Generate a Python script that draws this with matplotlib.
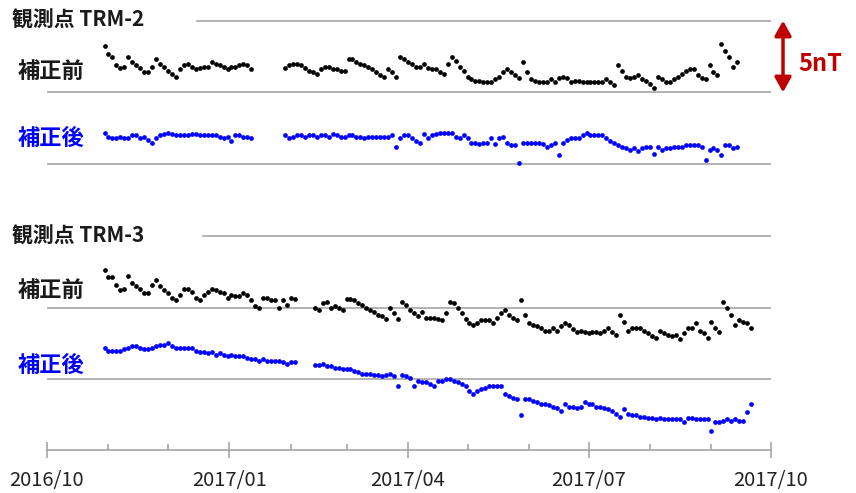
import numpy as np
import pandas as pd
import matplotlib.pyplot as plt
import matplotlib.dates as mdates

plt.rcParams['font.family'] = ['Noto Sans CJK JP', 'DejaVu Sans']

# values, one every 2 days, in nT (grid every 5 nT)
start_a = '2016-10-30'
trm2_start_b = '2017-01-29'
trm3_start_b = '2017-02-13'

trm2_before_a = [23.2, 22.7, 22.5, 21.9, 21.7, 21.8, 22.5, 22.1, 21.9, 21.7,
                 21.4, 21.4, 21.8, 22.3, 22.0, 21.8, 21.5, 21.3, 21.1, 21.6,
                 21.9, 22.0, 21.8, 21.6, 21.7, 21.8, 21.8, 22.1, 22.0, 21.9,
                 21.8, 21.6, 21.8, 21.8, 21.9, 22.0, 21.9, 21.6]
trm2_before_b = [21.7, 21.9, 22.0, 22.0, 21.9, 21.7, 21.5, 21.4, 21.3, 21.6,
                 21.8, 21.8, 21.6, 21.6, 21.5, 21.5, 22.3, 22.3, 22.1, 22.0,
                 21.9, 21.8, 21.6, 21.4, 21.2, 21.1, 21.6, 21.4, 21.1, 22.5,
                 22.3, 22.1, 22.0, 21.8, 21.8, 22.0, 21.7, 21.6, 21.6, 21.4,
                 21.3, 22.0, 22.5, 22.2, 21.8, 21.5, 21.1, 20.9, 20.8, 20.8,
                 20.7, 20.7, 20.7, 20.9, 21.1, 21.4, 21.6, 21.4, 21.2, 21.0,
                 22.1, 21.4, 20.9, 20.8, 20.7, 20.7, 20.7, 20.9, 20.7, 21.0,
                 21.1, 21.0, 20.7, 20.8, 20.8, 20.7, 20.7, 20.7, 20.7, 20.7,
                 20.7, 20.9, 20.7, 20.5, 21.9, 21.5, 21.1, 21.0, 21.1, 21.2,
                 20.9, 20.8, 20.6, 20.3, 21.1, 20.9, 20.7, 20.7, 20.9, 21.1,
                 21.3, 21.5, 21.6, 21.6, 21.2, 21.0, 20.9, 21.9, 21.4, 21.2,
                 23.4, 22.9, 22.5, 21.8, 22.1]

trm2_after_a = [17.2, 16.9, 16.8, 16.8, 16.9, 16.8, 16.8, 17.0, 17.0, 16.8,
                16.9, 16.7, 16.5, 16.8, 17.0, 17.1, 17.2, 17.1, 17.0, 17.0,
                17.0, 17.0, 17.1, 17.1, 17.0, 17.0, 17.0, 17.0, 17.0, 16.9,
                16.8, 16.9, 16.6, 17.0, 17.0, 16.9, 16.9, 16.8]
trm2_after_b = [17.0, 16.8, 16.9, 17.0, 17.0, 16.9, 17.0, 17.0, 16.9, 17.0,
                17.0, 16.9, 17.1, 17.0, 16.9, 16.9, 17.0, 17.0, 16.9, 16.9,
                16.8, 16.9, 16.9, 16.9, 16.9, 16.9, 16.9, 17.0, 16.2, 16.8,
                17.0, 17.0, 16.8, 16.6, 16.5, 17.1, 16.8, 17.0, 17.1, 17.2,
                17.2, 17.2, 17.2, 16.9, 16.8, 17.0, 16.8, 16.5, 16.5, 16.4,
                16.5, 16.5, 16.8, 16.4, 16.8, 16.9, 16.5, 16.3, 16.3, 15.1,
                16.5, 16.5, 16.5, 16.5, 16.5, 16.4, 16.2, 16.3, 16.5, 15.6,
                16.5, 16.7, 16.8, 16.8, 16.8, 17.0, 17.2, 17.0, 17.0, 17.0,
                17.0, 16.8, 16.6, 16.5, 16.3, 16.2, 16.1, 16.0, 16.1, 15.9,
                16.1, 16.2, 16.2, 15.7, 16.2, 16.0, 16.1, 16.1, 16.2, 16.2,
                16.2, 16.3, 16.3, 16.3, 16.3, 16.2, 15.3, 16.0, 16.1, 16.0,
                15.6, 16.3, 16.3, 16.1, 16.2]

trm3_before_a = [7.6, 7.1, 7.1, 6.6, 6.2, 6.3, 7.2, 6.7, 6.5, 6.3,
                 6.0, 6.0, 6.6, 6.9, 6.5, 6.2, 6.0, 5.7, 5.5, 5.9,
                 6.3, 6.3, 6.1, 5.7, 5.5, 5.9, 6.1, 6.3, 6.2, 6.1,
                 6.0, 5.7, 5.9, 5.8, 5.8, 6.0, 5.9, 5.5, 5.1, 5.0,
                 5.7, 5.7, 5.5, 5.5, 5.0, 5.5, 5.2, 5.7, 5.6]
trm3_before_b = [5.0, 4.8, 5.3, 5.4, 5.0, 5.1, 5.0, 4.8, 5.6, 5.6,
                 5.5, 5.3, 5.2, 5.0, 4.8, 4.7, 4.5, 4.4, 4.2, 5.0,
                 4.6, 4.2, 5.4, 5.2, 4.8, 4.6, 4.4, 4.7, 4.3, 4.3,
                 4.3, 4.2, 4.1, 4.6, 5.4, 5.3, 5.0, 4.6, 4.2, 3.9,
                 3.8, 3.9, 4.1, 4.1, 4.1, 3.9, 4.3, 4.6, 4.8, 4.5,
                 4.3, 4.1, 5.5, 4.5, 3.9, 3.8, 3.7, 3.6, 3.4, 3.4,
                 3.6, 3.4, 3.7, 3.9, 3.8, 3.5, 3.3, 3.4, 3.3, 3.2,
                 3.3, 3.3, 3.2, 3.4, 3.6, 3.3, 3.1, 4.5, 4.0, 3.4,
                 3.6, 3.6, 3.6, 3.4, 3.2, 3.0, 2.9, 3.4, 3.2, 3.1,
                 3.0, 3.1, 2.8, 3.2, 3.6, 3.6, 3.9, 3.4, 3.2, 2.9,
                 4.0, 3.6, 3.3, 5.4, 5.0, 4.5, 3.8, 4.1, 4.0, 3.9,
                 3.6]

trm3_after_a = [2.2, 2.0, 2.0, 2.0, 2.0, 2.1, 2.2, 2.3, 2.3, 2.2,
                2.1, 2.1, 2.2, 2.3, 2.4, 2.4, 2.5, 2.3, 2.2, 2.2,
                2.2, 2.2, 2.2, 2.0, 1.9, 1.9, 1.8, 1.9, 1.7, 1.8,
                1.7, 1.6, 1.7, 1.6, 1.6, 1.6, 1.5, 1.4, 1.4, 1.3,
                1.4, 1.3, 1.3, 1.3, 1.3, 1.2, 1.1, 1.2, 1.2]
trm3_after_b = [1.0, 1.0, 1.1, 0.9, 0.9, 0.8, 0.8, 0.7, 0.7, 0.7,
                0.6, 0.5, 0.4, 0.4, 0.4, 0.3, 0.3, 0.2, 0.3, 0.4,
                0.2, -0.5, 0.3, 0.2, 0.1, -0.5, -0.1, -0.2, -0.2, -0.3,
                -0.5, -0.1, -0.1, 0.0, 0.0, -0.1, -0.2, -0.3, -0.5, -0.8,
                -1.0, -0.8, -0.7, -0.6, -0.5, -0.5, -0.5, -0.5, -1.0, -1.2,
                -1.3, -1.4, -2.5, -1.4, -1.4, -1.5, -1.6, -1.7, -1.7, -1.8,
                -1.9, -2.0, -2.2, -1.7, -1.9, -1.9, -2.0, -1.9, -1.6, -1.7,
                -1.7, -1.9, -1.9, -2.0, -2.1, -2.2, -2.4, -2.6, -2.1, -2.4,
                -2.5, -2.5, -2.6, -2.6, -2.7, -2.7, -2.8, -2.7, -2.8, -2.8,
                -2.8, -2.8, -2.8, -3.0, -2.7, -2.7, -2.8, -2.8, -2.8, -2.8,
                -3.6, -3.0, -3.0, -2.9, -2.8, -2.9, -2.8, -2.9, -2.9, -2.3,
                -1.7]

grid_full = [0, 5, 15, 20]
grid_part = [10, 25]


def dates(start, vals):
    return pd.date_range(start, periods=len(vals), freq='2D')


fig = plt.figure(figsize=(8.56, 4.93), dpi=100)
ax = fig.add_axes([47/856, 43/493, 724/856, 450/493])

gc = '#a6a6a6'
for g in grid_full:
    ax.axhline(g, color=gc, lw=1.2, zorder=0)
ax.axhline(grid_part[1], xmin=0.207, color=gc, lw=1.2, zorder=0)
ax.axhline(grid_part[0], xmin=0.215, color=gc, lw=1.2, zorder=0)

series = [
    (start_a, trm2_before_a, 'black'), (trm2_start_b, trm2_before_b, 'black'),
    (start_a, trm2_after_a, '#0000ff'), (trm2_start_b, trm2_after_b, '#0000ff'),
    (start_a, trm3_before_a, 'black'), (trm3_start_b, trm3_before_b, 'black'),
    (start_a, trm3_after_a, '#0000ff'), (trm3_start_b, trm3_after_b, '#0000ff'),
]
for st, vals, c in series:
    ax.plot(dates(st, vals), vals, 'o', ms=3.4, mew=0, color=c, zorder=3)

ax.set_xlim(pd.Timestamp('2016-10-01'), pd.Timestamp('2017-10-01'))
ax.set_ylim(-4.93, 26.44)
for s in ['left', 'right', 'top']:
    ax.spines[s].set_visible(False)
ax.spines['bottom'].set_color(gc)
ax.spines['bottom'].set_linewidth(1.2)
ax.set_yticks([])
ax.xaxis.set_major_locator(mdates.MonthLocator(bymonth=[1, 4, 7, 10]))
ax.xaxis.set_major_formatter(mdates.DateFormatter('%Y/%m'))
ax.xaxis.set_minor_locator(mdates.MonthLocator())
ax.tick_params(axis='x', which='major', direction='inout', length=11,
               width=1.2, color=gc, labelsize=14.5, pad=9, labelcolor='#222222')
ax.tick_params(axis='x', which='minor', direction='in', length=4,
               width=1.2, color=gc)

# 5nT scale arrow
ax.annotate('', xy=(1.0166, 25), xytext=(1.0166, 20),
            xycoords=('axes fraction', 'data'),
            arrowprops=dict(arrowstyle='<|-|>,head_length=0.9,head_width=0.5',
                            color='#c00000', lw=2.5, shrinkA=0, shrinkB=0),
            annotation_clip=False)
fig.text(798/856, 1 - 64/493, '5nT', color='#c00000', fontsize=17,
         fontweight='bold', va='center', ha='left')

W, H = 856, 493
fig.text(12/W, 1 - 20/H, '観測点 TRM-2', fontsize=15, fontweight='bold',
         color='#1a1a1a', va='center')
fig.text(18/W, 1 - 71/H, '補正前', fontsize=16, fontweight='bold',
         color='#1a1a1a', va='center')
fig.text(18/W, 1 - 138/H, '補正後', fontsize=16, fontweight='bold',
         color='#0000ff', va='center')
fig.text(12/W, 1 - 236/H, '観測点 TRM-3', fontsize=15, fontweight='bold',
         color='#1a1a1a', va='center')
fig.text(18/W, 1 - 290/H, '補正前', fontsize=16, fontweight='bold',
         color='#1a1a1a', va='center')
fig.text(18/W, 1 - 365/H, '補正後', fontsize=16, fontweight='bold',
         color='#0000ff', va='center')

fig.savefig('out.png', dpi=100)
